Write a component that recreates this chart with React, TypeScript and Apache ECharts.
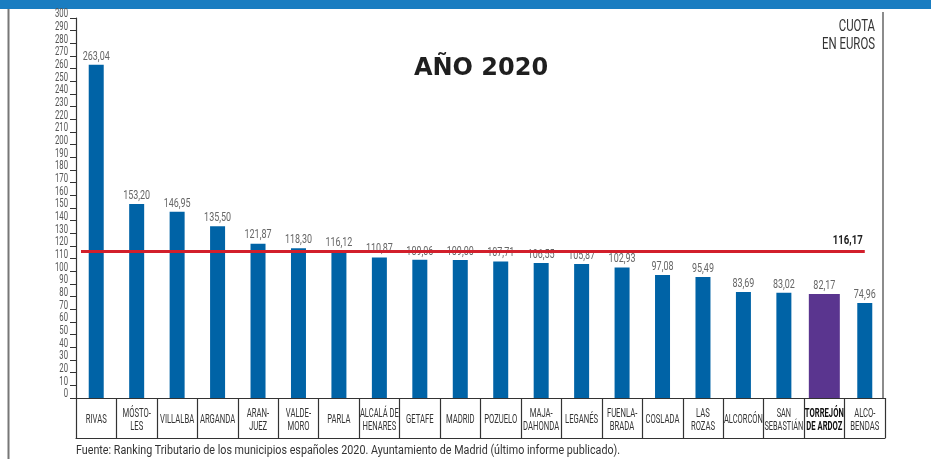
import React, { useEffect, useRef } from "react";
import * as echarts from "echarts";

const CATEGORIES = [
  "RIVAS", "MÓSTO-\nLES", "VILLALBA", "ARGANDA", "ARAN-\nJUEZ", "VALDE-\nMORO", "PARLA",
  "ALCALÁ DE\nHENARES", "GETAFE", "MADRID", "POZUELO", "MAJA-\nDAHONDA", "LEGANÉS",
  "FUENLA-\nBRADA", "COSLADA", "LAS\nROZAS", "ALCORCÓN", "SAN\nSEBASTIÁN", "TORREJÓN\nDE ARDOZ",
  "ALCO-\nBENDAS",
];
const VALUES = [
  263.04, 153.2, 146.95, 135.5, 121.87, 118.3, 116.12, 110.87, 109.06, 109.0, 107.71,
  106.55, 105.87, 102.93, 97.08, 95.49, 83.69, 83.02, 82.17, 74.96,
];
const HIGHLIGHT = "TORREJÓN\nDE ARDOZ";
const AVERAGE = 116.17;
const Y_MIN = 0;
const Y_MAX = 300;
const Y_STEP = 10;
const Y_TICKS = [
  0, 10, 20, 30, 40, 50, 60, 70, 80, 90, 100, 110, 120, 130, 140, 150, 160, 170, 180, 190,
  200, 210, 220, 230, 240, 250, 260, 270, 280, 290, 300,
];
const TITLE = "AÑO 2020";
const UNIT = "CUOTA\nEN EUROS";
const SOURCE =
  "Fuente: Ranking Tributario de los municipios españoles 2020. Ayuntamiento de Madrid (último informe publicado).";

const FONT = "Roboto, 'DejaVu Sans Condensed', sans-serif";
const fmt = (v: number) => v.toFixed(2).replace(".", ",");

const GRID_LEFT = 76;
const GRID_RIGHT = 46;
const GRID_TOP = 18;
const GRID_BOTTOM = 61;
const BOX_H = 40;

export default function App() {
  const ref = useRef<HTMLDivElement>(null);
  useEffect(() => {
    if (!ref.current) return;
    const chart = echarts.init(ref.current, undefined, { renderer: "svg" });
    const blueData = CATEGORIES.map((c, i) => (c === HIGHLIGHT ? "-" : VALUES[i]));
    const purpleData = CATEGORIES.map((c, i) => (c === HIGHLIGHT ? VALUES[i] : "-"));

    const ctx = document.createElement("canvas").getContext("2d");
    const measure = (text: string, font: string) => {
      if (!ctx) return 0;
      ctx.font = font;
      return Math.max(...text.split("\n").map((l) => ctx.measureText(l).width));
    };
    const txt = (id: string, x: number, y: number, scaleX: number, text: string, font: string, fill: string, align: string, vAlign: string, lineHeight?: number) => ({
      type: "text",
      id,
      x,
      y,
      scaleX,
      silent: true,
      style: {
        text,
        font,
        fill,
        lineHeight,
        align,
        verticalAlign: vAlign,
        textAlign: align,
        textVerticalAlign: vAlign,
      },
    });

    const unitFont = `16px ${FONT}`;
    const unitScale = 53 / (measure("EN EUROS", unitFont) || 53);
    const srcFont = `13.5px ${FONT}`;
    const srcScale = 545 / (measure(SOURCE, srcFont) || 545);

    const baseGraphic: any[] = [
      { type: "rect", id: "band", shape: { x: 0, y: 0, width: 931, height: 9 }, style: { fill: "#1a7dc1" }, silent: true },
      { type: "line", id: "lborder", shape: { x1: 8.5, y1: 9, x2: 8.5, y2: 459 }, style: { stroke: "#777", lineWidth: 2 }, silent: true },
      { type: "line", id: "rborder", shape: { x1: 883, y1: 12, x2: 883, y2: 398 }, style: { stroke: "#666", lineWidth: 1.5 }, silent: true },
      txt("title", 481, 67, 1, TITLE, "bold 24px 'DejaVu Sans', sans-serif", "#1f1f1f", "center", "middle"),
      txt("unit", 875, 16, unitScale, UNIT, unitFont, "#333", "right", "top", 18),
      txt("source", 76, 450, srcScale, SOURCE, srcFont, "#333", "left", "middle"),
    ];
    const option: any = {
      animation: false,
      grid: { left: GRID_LEFT, right: GRID_RIGHT, top: GRID_TOP, bottom: GRID_BOTTOM },
      xAxis: [
        {
          type: "category",
          data: CATEGORIES,
          boundaryGap: true,
          axisLine: { show: true, lineStyle: { color: "#333", width: 1.2 } },
          axisTick: { show: true, interval: 0, length: BOX_H, lineStyle: { color: "#333", width: 1.2 } },
          axisLabel: { show: false },
        },
        {
          type: "category",
          data: CATEGORIES,
          position: "bottom",
          offset: BOX_H,
          axisLine: { show: true, lineStyle: { color: "#333", width: 1.2 } },
          axisTick: { show: false },
          axisLabel: { show: false },
        },
      ],
      yAxis: {
        type: "value",
        min: Y_MIN,
        max: Y_MAX,
        interval: Y_STEP,
        axisLine: { show: true, lineStyle: { color: "#333", width: 1.2 } },
        axisTick: { show: true, length: 6, lineStyle: { color: "#333" } },
        axisLabel: { show: false },
        splitLine: { show: false },
      },
      series: [
        {
          type: "bar",
          xAxisIndex: 0,
          data: blueData,
          barWidth: 15,
          itemStyle: { color: "#0063a6" },
          silent: true,
          markLine: {
            silent: true,
            symbol: "none",
            lineStyle: { color: "#d21f2b", width: 3, type: "solid" },
            label: { show: false },
            data: [[{ xAxis: 0, yAxis: AVERAGE, x: GRID_LEFT + 5 }, { xAxis: CATEGORIES.length - 1, yAxis: AVERAGE }]],
          },
        },
        {
          type: "bar",
          xAxisIndex: 1,
          data: purpleData,
          barWidth: 31,
          itemStyle: { color: "#5a358f" },
          silent: true,
        },
      ],
      graphic: baseGraphic,
    };
    chart.setOption(option);

    const px = (c: string) => chart.convertToPixel({ xAxisIndex: 0 }, c) as number;
    const py = (v: number) => chart.convertToPixel({ yAxisIndex: 0 }, v) as number;
    const yBase = py(0);

    // category labels inside the boxes
    const catFont = `13px ${FONT}`;
    const catBase = 21 / (measure("RIVAS", catFont) || 21);
    const catGraphics = CATEGORIES.map((c, i) => {
      const bold = c === HIGHLIGHT;
      const font = `${bold ? "bold " : ""}${catFont}`;
      const w = measure(c, font);
      const scale = Math.min(catBase, w > 0 ? 39 / w : catBase);
      return txt("cat" + i, px(c), yBase + BOX_H / 2 + 1, scale, c, font, bold ? "#111" : "#333", "center", "middle", 13);
    });

    // value labels above bars
    const valFont = `13.5px ${FONT}`;
    const valScale = 27 / (measure("263,04", valFont) || 27);
    const valGraphics = CATEGORIES.map((c, i) =>
      txt("val" + i, px(c), py(VALUES[i]) - 3, valScale, fmt(VALUES[i]), valFont, "#666", "center", "bottom")
    );

    // y tick labels
    const yFont = `13px ${FONT}`;
    const yScale = 13 / (measure("300", yFont) || 13);
    const yGraphics = Y_TICKS.map((v) =>
      txt("y" + v, GRID_LEFT - 8, py(v) + 1.5, yScale, String(v), yFont, "#555", "right", "bottom")
    );

    // average label at the end of the red line
    const avgFont = `bold 13.5px ${FONT}`;
    const avgScale = 30 / (measure(fmt(AVERAGE), avgFont) || 30);
    const avgX = px(CATEGORIES[CATEGORIES.length - 1]) - 2;
    const avgGraphic = txt("avg", avgX, py(AVERAGE) - 4, avgScale, fmt(AVERAGE), avgFont, "#222", "right", "bottom");

    chart.setOption({ graphic: [...baseGraphic, ...catGraphics, ...valGraphics, ...yGraphics, avgGraphic] });

    return () => chart.dispose();
  }, []);
  return <div ref={ref} style={{ position: "fixed", left: 0, top: 0, width: 931, height: 459 }} />;
}
